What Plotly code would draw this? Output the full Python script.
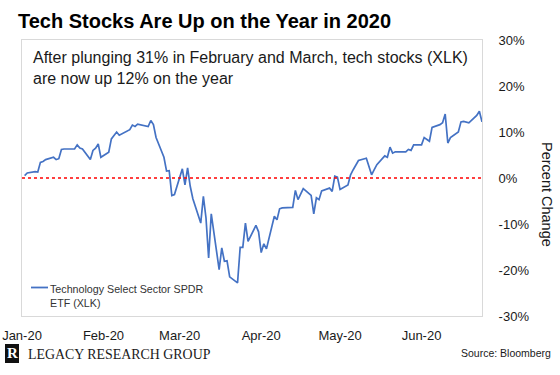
import plotly.graph_objects as go

# ---------------- data ----------------
trading_days = {
    1: [2, 3, 6, 7, 8, 9, 10, 13, 14, 15, 16, 17, 21, 22, 23, 24, 27, 28, 29, 30, 31],
    2: [3, 4, 5, 6, 7, 10, 11, 12, 13, 14, 18, 19, 20, 21, 24, 25, 26, 27, 28],
    3: [2, 3, 4, 5, 6, 9, 10, 11, 12, 13, 16, 17, 18, 19, 20, 23, 24, 25, 26, 27, 30, 31],
    4: [1, 2, 3, 6, 7, 8, 9, 13, 14, 15, 16, 17, 20, 21, 22, 23, 24, 27, 28, 29, 30],
    5: [1, 4, 5, 6, 7, 8, 11, 12, 13, 14, 15, 18, 19, 20, 21, 22, 26, 27, 28, 29],
    6: [1, 2, 3, 4, 5, 8, 9, 10, 11, 12, 15, 16, 17, 18, 19, 22, 23, 24],
}
dates = [f"2020-{m:02d}-{d:02d}" for m, days in trading_days.items() for d in days]

jan_values = [0.5, 1.1, 1.4, 1.3, 3.4, 3.6, 4.0, 4.5, 4.0, 4.2, 6.2, 6.3, 6.3, 7.2, 6.5,
              6.3, 4.0, 6.0, 6.5, 7.4, 4.5]
feb_values = [5.6, 8.5, 9.4, 10.0, 9.3, 10.3, 10.5, 11.5, 11.2, 11.7, 11.2, 12.5, 11.6,
              8.8, 4.5, 1.5, 1.6, -3.8, -3.6]
mar_values = [2.0, -1.5, 2.2, -1.8, -4.5, -9.8, -4.0, -8.7, -17.4, -7.8, -19.9, -15.2,
              -18.1, -18.0, -21.5, -22.8, -15.1, -15.1, -9.8, -13.8, -10.3, -11.7]
apr_values = [-16.2, -14.3, -15.4, -8.3, -9.1, -6.7, -6.5, -6.4, -2.7, -4.7, -3.5, -2.3,
              -3.8, -7.8, -4.3, -4.7, -2.8, -2.2, -2.9, 0.4, 0.2]
may_values = [-2.5, -1.5, 0.7, 1.8, 2.8, 3.8, 4.3, 2.3, 0.7, 1.8, 2.9, 4.8, 4.5, 6.7,
              5.4, 5.7, 5.7, 6.2, 6.0, 7.2]
jun_values = [7.2, 8.8, 8.3, 8.0, 11.0, 11.6, 12.0, 13.9, 7.6, 8.8, 10.0, 12.2, 12.3,
              12.1, 12.0, 13.6, 14.5, 12.2]
values = jan_values + feb_values + mar_values + apr_values + may_values + jun_values

x_tick_vals = ["2020-01-01", "2020-02-01", "2020-03-01", "2020-04-01", "2020-05-01", "2020-06-01"]
x_tick_text = ["Jan-20", "Feb-20", "Mar-20", "Apr-20", "May-20", "Jun-20"]
y_tick_vals = [-30, -20, -10, 0, 10, 20, 30]
y_tick_text = ["-30%", "-20%", "-10%", "0%", "10%", "20%", "30%"]

series_name = "Technology Select Sector SPDR<br>ETF (XLK)"
title_text = "Tech Stocks Are Up on the Year in 2020"
note_text = "After plunging 31% in February and March, tech stocks (XLK)<br>are now up 12% on the year"

# ---------------- layout helpers ----------------
W, H = 560, 375
L, R, T, B = 22, 78, 40, 59
PW, PH = W - L - R, H - T - B


def px(x):
    return (x - L) / PW


def py(y):
    return (H - B - y) / PH


SANS = "Liberation Sans, Arial, sans-serif"
SERIF = "Liberation Serif, Times New Roman, serif"
INK = "#1a1a1a"
BLUE = "#4472C4"

fig = go.Figure()
fig.add_trace(go.Scatter(x=dates, y=values, mode="lines", name="XLK",
                         line=dict(color=BLUE, width=1.7), showlegend=False,
                         hoverinfo="skip"))

fig.update_layout(
    width=W, height=H,
    margin=dict(l=L, r=R, t=T, b=B, pad=0, autoexpand=False),
    paper_bgcolor="white", plot_bgcolor="white",
    font=dict(family=SANS, color=INK),
    xaxis=dict(type="date", range=["2020-01-01", "2020-06-24"],
               tickvals=x_tick_vals, ticktext=x_tick_text, automargin=False,
               showgrid=False, zeroline=False, ticks="",
               showline=True, mirror=True, linecolor="#d9d9d9", linewidth=1,
               tickfont=dict(size=13, color=INK), ticklabelstandoff=7),
    yaxis=dict(side="right", range=[-30, 30], tickvals=y_tick_vals, ticktext=y_tick_text,
               showgrid=False, zeroline=False, ticks="", automargin=False,
               showline=True, mirror=True, linecolor="#d9d9d9", linewidth=1,
               tickfont=dict(size=13, color=INK), ticklabelstandoff=13),
)

# zero reference line
fig.add_shape(type="line", xref="paper", yref="y", x0=0, x1=1, y0=0, y1=0,
              line=dict(color="#FF0000", width=1.5, dash="dot"))

# custom legend
fig.add_shape(type="line", xref="paper", yref="paper", x0=px(31), x1=px(48),
              y0=py(287.5), y1=py(287.5), line=dict(color=BLUE, width=1.8))
fig.add_annotation(xref="paper", yref="paper", x=px(48), y=py(281), xanchor="left",
                   yanchor="top", align="left", showarrow=False, text=series_name,
                   font=dict(size=10.7, color="#333333"))

# title and note
fig.add_annotation(xref="paper", yref="paper", x=px(16), y=py(21), xanchor="left",
                   yanchor="middle", showarrow=False, text=f"<b>{title_text}</b>",
                   font=dict(size=20, color="#000000"))
fig.add_annotation(xref="paper", yref="paper", x=px(31), y=py(47), xanchor="left",
                   yanchor="top", align="left", showarrow=False, text=note_text,
                   font=dict(size=16, color=INK))

# axis title (reads top to bottom)
fig.add_annotation(xref="paper", yref="paper", x=px(547), y=py(194), xanchor="center",
                   yanchor="middle", showarrow=False, text="Percent Change", textangle=90,
                   font=dict(size=14.5, color=INK))

# footer
fig.add_shape(type="rect", xref="paper", yref="paper", x0=px(5), x1=px(19),
              y0=py(363), y1=py(344), fillcolor="#111111", line=dict(width=0))
fig.add_annotation(xref="paper", yref="paper", x=px(12), y=py(353), xanchor="center",
                   yanchor="middle", showarrow=False, text="<b>R</b>",
                   font=dict(family=SERIF, size=15, color="white"))
fig.add_annotation(xref="paper", yref="paper", x=px(26), y=py(354), xanchor="left",
                   yanchor="middle", showarrow=False, text="LEGACY RESEARCH GROUP",
                   font=dict(family=SERIF, size=13.9, color=INK))
fig.add_annotation(xref="paper", yref="paper", x=px(553), y=py(353), xanchor="right",
                   yanchor="middle", showarrow=False, text="Source: Bloomberg",
                   font=dict(size=10.5, color=INK))

fig.write_html("out.html", config={"displayModeBar": False, "staticPlot": True},
               post_script="document.body.style.margin='0';")
